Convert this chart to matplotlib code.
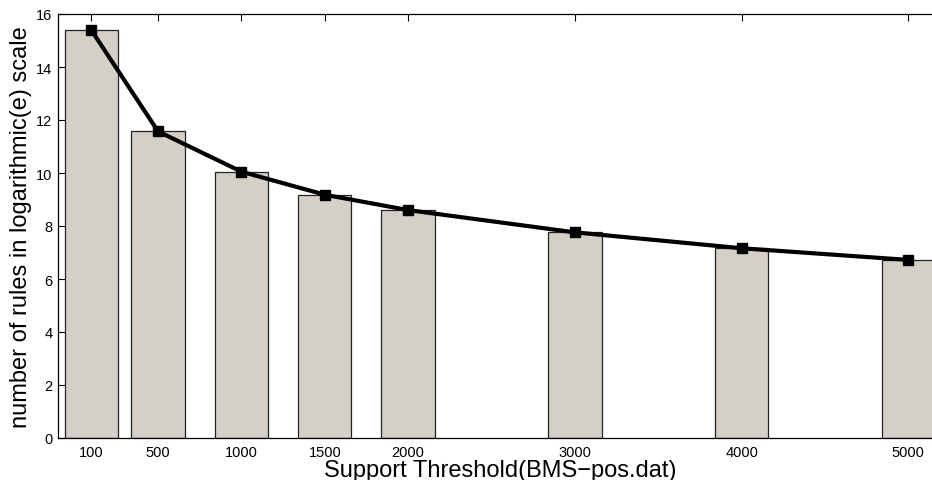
import matplotlib
matplotlib.use("Agg")
import matplotlib.pyplot as plt

thresholds = [100, 500, 1000, 1500, 2000, 3000, 4000, 5000]
log_rules = [15.39, 11.57, 10.05, 9.18, 8.6, 7.76, 7.16, 6.72]
x_tick_labels = ["100", "500", "1000", "1500", "2000", "3000", "4000", "5000"]
y_ticks = [0, 2, 4, 6, 8, 10, 12, 14, 16]

plt.rcParams['font.family'] = ['Liberation Sans', 'DejaVu Sans']

fig = plt.figure(figsize=(9.32, 4.81), dpi=100)
ax = fig.add_axes([58/932, 42/481, (941.7-58)/932, (439-15)/481])

ax.bar(thresholds, log_rules, width=320, color='#d4d0c8', edgecolor='#222222',
       linewidth=0.9, zorder=1)
ax.plot(thresholds, log_rules, color='black', linewidth=3, marker='s',
        markersize=7, zorder=3)

ax.set_xlim(-100, 5200)
ax.set_ylim(0, 16)
ax.set_xticks(thresholds)
ax.set_xticklabels(x_tick_labels)
ax.set_yticks(y_ticks)
ax.tick_params(direction='in', length=5, width=0.8, labelsize=10.5,
               top=True, right=True, colors='black')
ax.tick_params(axis='x', pad=5)
ax.tick_params(axis='y', pad=4)
ax.set_axisbelow(True)
for s in ax.spines.values():
    s.set_linewidth(0.9)

ax.set_xlabel("Support Threshold(BMS\u2212pos.dat)", fontsize=17, labelpad=0)
ax.set_ylabel("number of rules in logarithmic(e) scale", fontsize=17, labelpad=3)

fig.savefig("out.png", dpi=100)
